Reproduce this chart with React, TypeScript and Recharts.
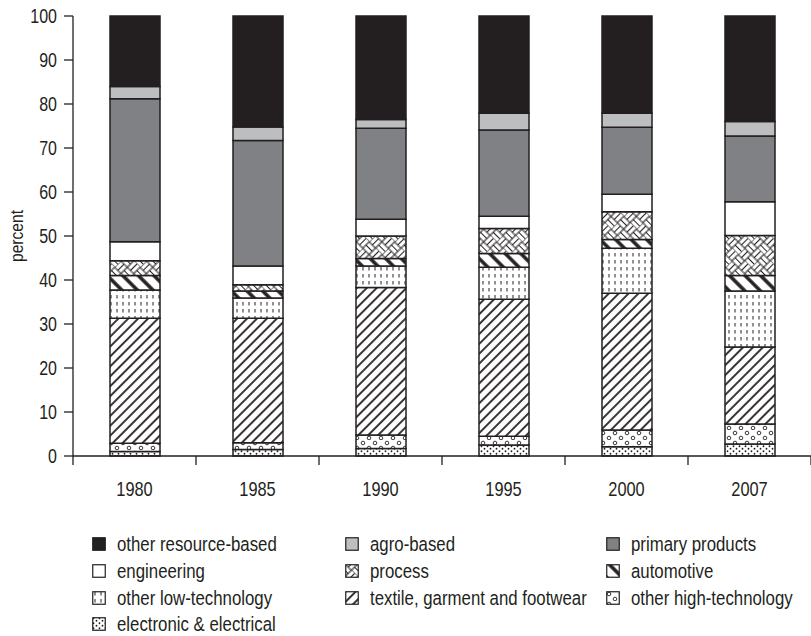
import React from 'react'
import { BarChart, Bar, XAxis, YAxis } from 'recharts'

const years = ['1980', '1985', '1990', '1995', '2000', '2007']

// shares by year, bottom of the stack first
const electronic = [1.0, 1.5, 1.7, 2.5, 2.1, 2.7]
const otherHighTech = [1.9, 1.5, 3.1, 2.0, 3.8, 4.6]
const textile = [28.4, 28.3, 33.5, 31.1, 31.1, 17.5]
const otherLowTech = [6.4, 4.6, 4.9, 7.3, 10.2, 12.7]
const automotive = [3.3, 1.6, 1.7, 3.1, 2.0, 3.5]
const processInd = [3.4, 1.4, 5.1, 5.7, 6.3, 9.1]
const engineering = [4.3, 4.3, 3.8, 2.8, 4.0, 7.7]
const primary = [32.5, 28.5, 20.7, 19.6, 15.2, 14.9]
const agro = [2.8, 3.1, 2.0, 3.8, 3.2, 3.3]
const otherResource = [16.0, 25.2, 23.5, 22.1, 22.1, 24.0]

const yTicks = [0, 10, 20, 30, 40, 50, 60, 70, 80, 90, 100]

const INK = '#231f20'
// no narrow face installed, so Liberation Sans gets squeezed horizontally
const FONT = "'Liberation Sans', Arial, sans-serif"
const SQUEEZE = 0.82
const CHART_W = 811
const Y_AXIS_W = 73
const BAND = (CHART_W - Y_AXIS_W) / years.length

const series = [
  { key: 'electronic', name: 'electronic & electrical', values: electronic, fill: 'url(#pElectronic)' },
  { key: 'otherHighTech', name: 'other high-technology', values: otherHighTech, fill: 'url(#pHighTech)' },
  { key: 'textile', name: 'textile, garment and footwear', values: textile, fill: 'url(#pTextile)' },
  { key: 'otherLowTech', name: 'other low-technology', values: otherLowTech, fill: 'url(#pLowTech)' },
  { key: 'automotive', name: 'automotive', values: automotive, fill: 'url(#pAuto)' },
  { key: 'process', name: 'process', values: processInd, fill: 'url(#pProcess)' },
  { key: 'engineering', name: 'engineering', values: engineering, fill: '#ffffff' },
  { key: 'primary', name: 'primary products', values: primary, fill: '#808184' },
  { key: 'agro', name: 'agro-based', values: agro, fill: '#bcbec0' },
  { key: 'otherResource', name: 'other resource-based', values: otherResource, fill: INK },
]

const data = years.map((year, i) => {
  const row: Record<string, string | number> = { year }
  series.forEach((s) => {
    row[s.key] = s.values[i]
  })
  return row
})

// legend reads top of the stack first, three per row
const legendOrder = [...series].reverse()

function Patterns() {
  return (
    <defs>
      <pattern id="pElectronic" patternUnits="userSpaceOnUse" width="6" height="5">
        <rect width="6" height="5" fill="#fff" />
        <circle cx="1.5" cy="1.25" r="0.9" fill={INK} />
        <circle cx="4.5" cy="3.75" r="0.9" fill={INK} />
      </pattern>
      <pattern id="pHighTech" patternUnits="userSpaceOnUse" width="12" height="10">
        <rect width="12" height="10" fill="#fff" />
        <circle cx="3" cy="3" r="1.8" fill="none" stroke={INK} strokeWidth="0.9" />
        <circle cx="9" cy="8" r="1.8" fill="none" stroke={INK} strokeWidth="0.9" />
      </pattern>
      <pattern id="pTextile" patternUnits="userSpaceOnUse" width="7" height="7" patternTransform="rotate(45)">
        <rect width="7" height="7" fill="#fff" />
        <line x1="1" y1="0" x2="1" y2="7" stroke={INK} strokeWidth="1.8" />
      </pattern>
      <pattern id="pLowTech" patternUnits="userSpaceOnUse" width="6" height="7">
        <rect width="6" height="7" fill="#fff" />
        <line x1="3" y1="1" x2="3" y2="4.5" stroke={INK} strokeWidth="1" />
      </pattern>
      <pattern id="pAuto" patternUnits="userSpaceOnUse" width="11" height="11" patternTransform="rotate(-45)">
        <rect width="11" height="11" fill="#fff" />
        <line x1="2" y1="0" x2="2" y2="11" stroke={INK} strokeWidth="3.5" />
      </pattern>
      <pattern id="pProcess" patternUnits="userSpaceOnUse" width="18" height="18" patternTransform="rotate(45)">
        <rect width="18" height="18" fill="#fff" />
        <path
          d="M0,0 H9 M0,4.5 H9 M0,9 H18 M9,13.5 H18 M9,18 H18 M0,0 V18 M4.5,9 V18 M9,0 V18 M13.5,0 V9 M18,0 V9 M0,18 H9"
          stroke={INK}
          strokeWidth="1.1"
          fill="none"
        />
      </pattern>
    </defs>
  )
}

function YearTick({ x, y, payload, index }: any) {
  const left = x - BAND / 2
  return (
    <g>
      <line x1={left} y1={y} x2={left} y2={y + 9} stroke={INK} strokeWidth={1.3} />
      {index === years.length - 1 && (
        <line x1={x + BAND / 2} y1={y} x2={x + BAND / 2} y2={y + 9} stroke={INK} strokeWidth={1.3} />
      )}
      <text
        transform={`translate(${x},${y + 40}) scale(${SQUEEZE},1)`}
        textAnchor="middle"
        fontSize={20}
        fill={INK}
        fontFamily={FONT}
      >
        {payload.value}
      </text>
    </g>
  )
}

function PercentTick({ x, y, payload }: any) {
  return (
    <text
      transform={`translate(${x},${y}) scale(${SQUEEZE},1)`}
      textAnchor="end"
      dy="0.36em"
      fontSize={19.5}
      fill={INK}
      fontFamily={FONT}
    >
      {payload.value}
    </text>
  )
}

function PercentLabel() {
  return (
    <text
      transform={`translate(16,236) rotate(-90) scale(${SQUEEZE},1)`}
      textAnchor="middle"
      dominantBaseline="central"
      fontSize={19}
      fill={INK}
      fontFamily={FONT}
    >
      percent
    </text>
  )
}

export default function App() {
  return (
    <div style={{ position: 'absolute', left: 0, top: 0, width: 811, height: 636, background: '#fff', fontFamily: FONT }}>
      <BarChart width={CHART_W} height={500} data={data} margin={{ top: 16, right: 0, left: 0, bottom: 0 }}>
        <Patterns />
        <XAxis
          dataKey="year"
          height={44}
          tickLine={false}
          tickSize={0}
          tickMargin={0}
          tick={<YearTick />}
          interval={0}
          axisLine={{ stroke: INK, strokeWidth: 1.3 }}
        />
        <YAxis
          width={Y_AXIS_W}
          domain={[0, 100]}
          ticks={yTicks}
          interval={0}
          tickSize={9}
          tickMargin={7}
          tickLine={{ stroke: INK, strokeWidth: 1.3 }}
          axisLine={{ stroke: INK, strokeWidth: 1.3 }}
          tick={<PercentTick />}
          label={{ content: <PercentLabel /> }}
        />
        {series.map((s) => (
          <Bar
            key={s.key}
            dataKey={s.key}
            name={s.name}
            stackId="a"
            fill={s.fill}
            stroke={INK}
            strokeWidth={1.5}
            barSize={50}
            isAnimationActive={false}
          />
        ))}
      </BarChart>
      <div
        style={{
          position: 'absolute',
          left: 92,
          top: 531,
          display: 'grid',
          gridTemplateColumns: '253px 261px auto',
          gridAutoRows: '26.7px',
          fontSize: 20.5,
          color: INK,
        }}
      >
        {legendOrder.map((s) => (
          <div key={s.key} style={{ display: 'flex', alignItems: 'center', whiteSpace: 'nowrap', overflow: 'visible', minWidth: 0 }}>
            <svg width={14} height={14} style={{ marginRight: 11, flexShrink: 0 }}>
              <rect x={0.75} y={0.75} width={12.5} height={12.5} fill={s.fill} stroke={INK} strokeWidth={1.2} />
            </svg>
            <span style={{ display: 'inline-block', transform: `scaleX(${SQUEEZE})`, transformOrigin: 'left center' }}>
              {s.name}
            </span>
          </div>
        ))}
      </div>
    </div>
  )
}
